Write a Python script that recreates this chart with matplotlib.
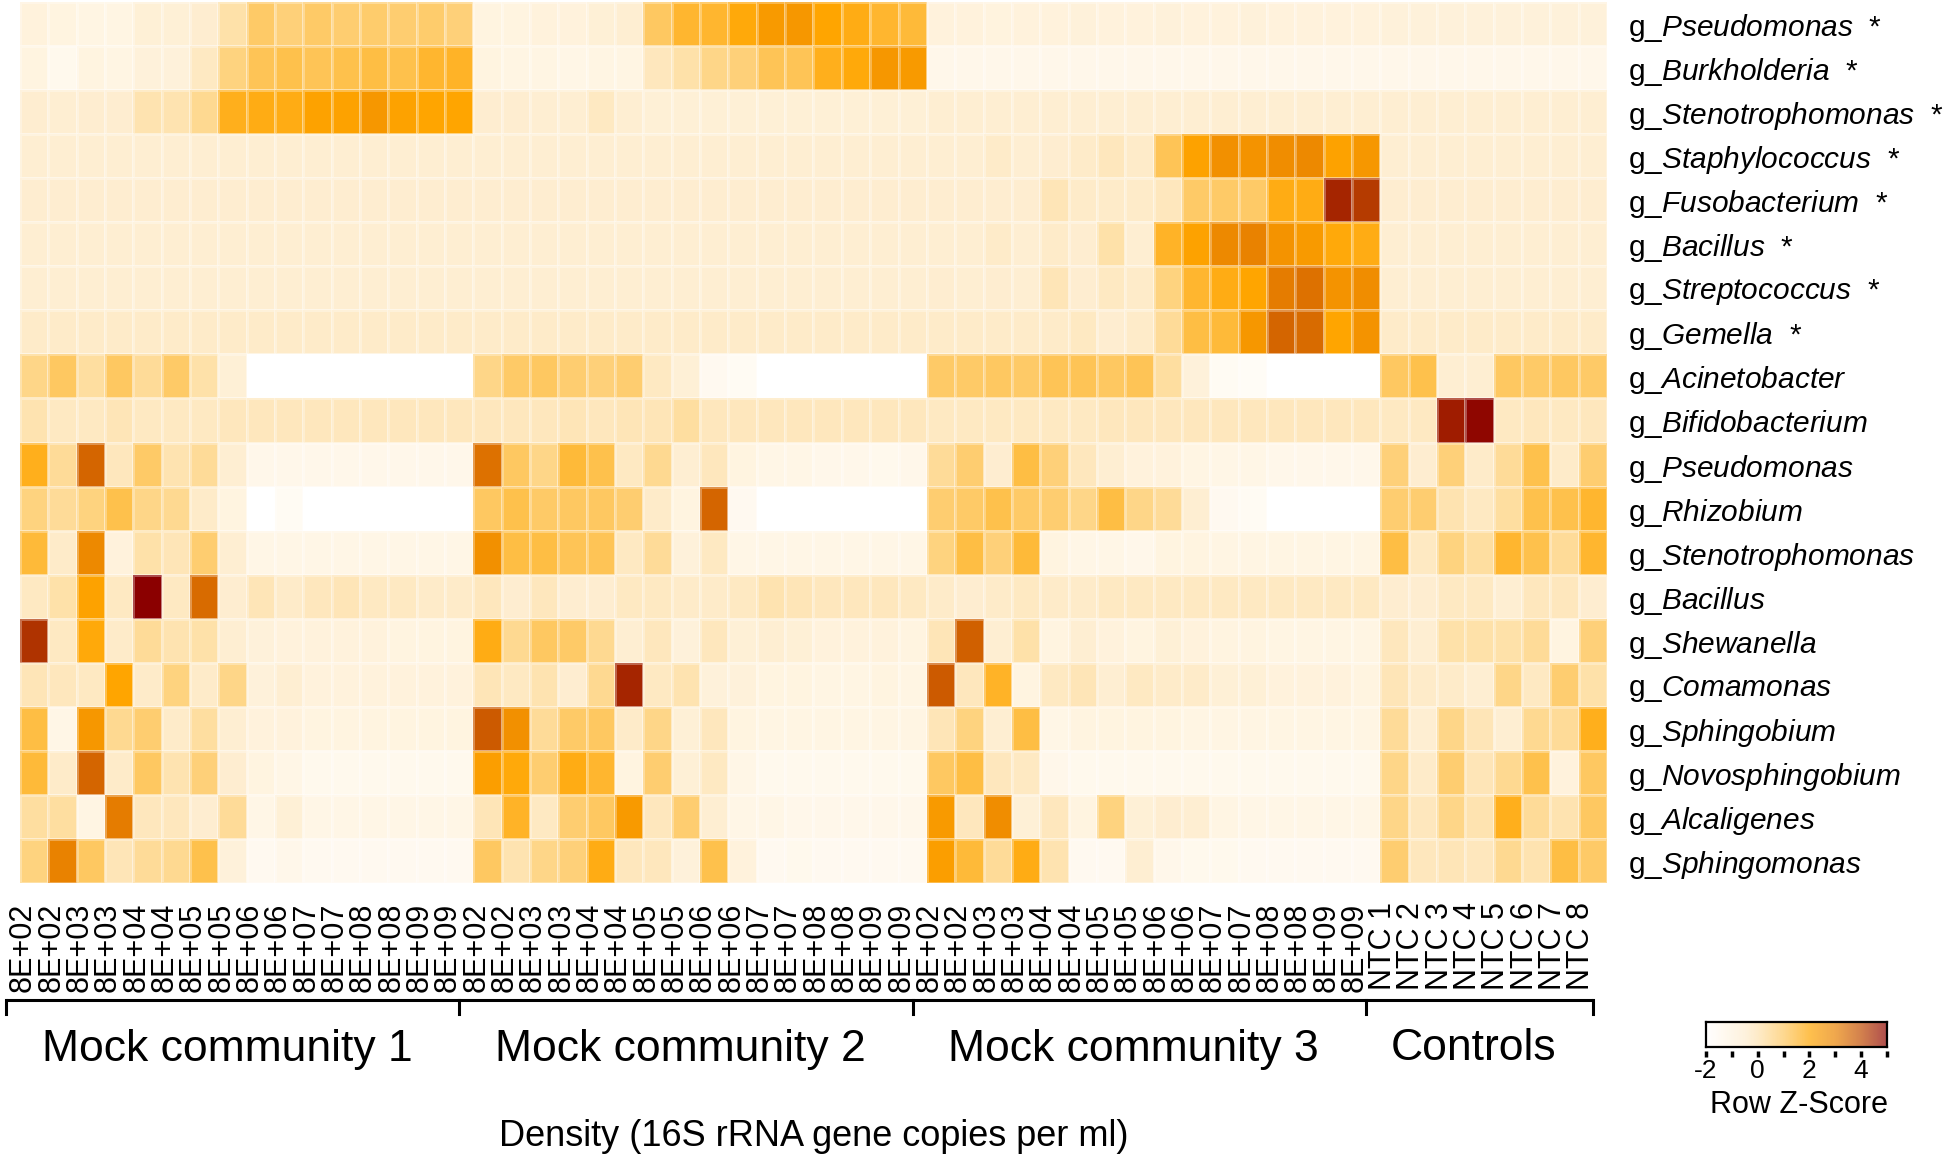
import numpy as np
import matplotlib
matplotlib.use("Agg")
import matplotlib.pyplot as plt
from matplotlib.colors import LinearSegmentedColormap
from matplotlib import transforms

plt.rcParams['font.family'] = 'Liberation Sans'
plt.rcParams['mathtext.fontset'] = 'custom'
plt.rcParams['mathtext.rm'] = 'Liberation Sans'
plt.rcParams['mathtext.it'] = 'Liberation Sans:italic'

# ---- data (row z-scores) ----
genera = ["Pseudomonas", "Burkholderia", "Stenotrophomonas", "Staphylococcus",
          "Fusobacterium", "Bacillus", "Streptococcus", "Gemella",
          "Acinetobacter", "Bifidobacterium", "Pseudomonas", "Rhizobium",
          "Stenotrophomonas", "Bacillus", "Shewanella", "Comamonas",
          "Sphingobium", "Novosphingobium", "Alcaligenes", "Sphingomonas"]
mock_member = [True] * 8 + [False] * 12

densities = ["8E+02", "8E+02", "8E+03", "8E+03", "8E+04", "8E+04", "8E+05", "8E+05",
             "8E+06", "8E+06", "8E+07", "8E+07", "8E+08", "8E+08", "8E+09", "8E+09"]
controls = ["NTC 1", "NTC 2", "NTC 3", "NTC 4", "NTC 5", "NTC 6", "NTC 7", "NTC 8"]
groups = ["Mock community 1", "Mock community 2", "Mock community 3", "Controls"]
group_sizes = [16, 16, 16, 8]

# each row: mock 1 (16) | mock 2 (16) | mock 3 (16) | controls (8)
z_pseudomonas_m = [-0.9, -1.0, -1.1, -1.1, -0.7, -0.7, -0.5, 0.1, 0.9, 0.7, 0.9, 0.8, 0.85, 0.8, 0.85, 0.7,
                   -1.0, -1.0, -0.9, -0.9, -0.7, -0.6, 1.0, 1.5, 1.5, 1.9, 2.3, 2.4, 2.0, 1.8, 1.5, 1.4,
                   -0.9, -0.9, -0.95, -0.9, -0.9, -0.85, -0.9, -0.9, -0.85, -0.9, -0.9, -0.85, -0.9, -0.9, -0.9, -0.9,
                   -0.8, -0.8, -0.8, -0.8, -0.8, -0.8, -0.8, -0.8]
z_burkholderia_m = [-1.0, -1.4, -1.0, -1.1, -0.8, -0.8, -0.3, 0.6, 1.1, 1.2, 1.1, 1.2, 1.3, 1.2, 1.5, 1.6,
                    -1.0, -1.1, -1.1, -1.2, -1.1, -1.1, -0.2, 0.1, 0.5, 0.7, 1.1, 1.1, 1.7, 1.9, 2.4, 2.3,
                    -1.3, -1.3, -1.3, -1.3, -1.3, -1.3, -1.3, -1.3, -1.3, -1.3, -1.3, -1.3, -1.3, -1.3, -1.3, -1.3,
                    -1.3, -1.3, -1.3, -1.3, -1.3, -1.3, -1.3, -1.3]
z_steno_m = [-0.5, -0.6, -0.5, -0.5, 0.0, 0.0, 0.4, 1.7, 1.8, 1.8, 2.1, 2.1, 2.4, 2.1, 2.0, 2.0,
             -0.5, -0.5, -0.6, -0.6, -0.3, -0.6, -0.7, -0.7, -0.7, -0.7, -0.7, -0.7, -0.7, -0.7, -0.7, -0.7,
             -0.6, -0.6, -0.6, -0.6, -0.6, -0.6, -0.6, -0.6, -0.6, -0.6, -0.6, -0.6, -0.6, -0.6, -0.6, -0.6,
             -0.6, -0.6, -0.6, -0.6, -0.6, -0.6, -0.6, -0.6]
z_staphylococcus_m = [-0.6, -0.6, -0.6, -0.6, -0.6, -0.6, -0.6, -0.6, -0.6, -0.6, -0.6, -0.6, -0.6, -0.6, -0.6, -0.6,
                      -0.6, -0.6, -0.6, -0.6, -0.6, -0.6, -0.6, -0.6, -0.6, -0.6, -0.6, -0.6, -0.6, -0.6, -0.6, -0.6,
                      -0.6, -0.6, -0.4, -0.6, -0.5, -0.4, -0.2, -0.4, 1.1, 2.1, 2.6, 2.5, 2.7, 2.8, 2.1, 2.4,
                      -0.6, -0.6, -0.6, -0.6, -0.6, -0.6, -0.6, -0.6]
z_fusobacterium_m = [-0.5, -0.5, -0.5, -0.5, -0.5, -0.5, -0.5, -0.5, -0.5, -0.5, -0.5, -0.5, -0.5, -0.5, -0.5, -0.5,
                     -0.5, -0.5, -0.5, -0.5, -0.5, -0.5, -0.5, -0.5, -0.5, -0.5, -0.5, -0.5, -0.5, -0.5, -0.5, -0.5,
                     -0.5, -0.5, -0.5, -0.5, -0.1, -0.4, -0.4, -0.4, -0.2, 0.9, 0.9, 0.9, 1.8, 1.8, 4.5, 4.2,
                     -0.5, -0.5, -0.5, -0.5, -0.5, -0.5, -0.5, -0.5]
z_bacillus_m = [-0.6, -0.6, -0.6, -0.6, -0.6, -0.6, -0.6, -0.6, -0.6, -0.6, -0.6, -0.6, -0.6, -0.6, -0.6, -0.6,
                -0.6, -0.6, -0.6, -0.6, -0.6, -0.6, -0.6, -0.6, -0.6, -0.6, -0.6, -0.6, -0.6, -0.6, -0.6, -0.6,
                -0.6, -0.6, -0.4, -0.6, -0.4, -0.5, 0.1, -0.6, 1.6, 2.1, 2.8, 3.0, 2.5, 2.3, 1.9, 1.8,
                -0.6, -0.6, -0.6, -0.6, -0.6, -0.6, -0.6, -0.6]
z_streptococcus_m = [-0.6, -0.6, -0.6, -0.6, -0.6, -0.6, -0.6, -0.6, -0.6, -0.6, -0.6, -0.6, -0.6, -0.6, -0.6, -0.6,
                     -0.6, -0.6, -0.6, -0.6, -0.6, -0.6, -0.6, -0.6, -0.6, -0.6, -0.6, -0.6, -0.6, -0.6, -0.6, -0.6,
                     -0.5, -0.6, -0.5, -0.6, -0.1, -0.5, -0.3, -0.4, 0.6, 1.5, 1.8, 2.0, 3.1, 3.3, 2.5, 2.7,
                     -0.6, -0.6, -0.6, -0.6, -0.6, -0.6, -0.6, -0.6]
z_gemella_m = [-0.4, -0.4, -0.4, -0.4, -0.4, -0.4, -0.4, -0.4, -0.4, -0.4, -0.4, -0.4, -0.4, -0.4, -0.4, -0.4,
               -0.4, -0.4, -0.4, -0.4, -0.4, -0.4, -0.4, -0.4, -0.4, -0.4, -0.4, -0.4, -0.4, -0.4, -0.4, -0.4,
               -0.4, -0.4, -0.4, -0.4, -0.4, -0.3, -0.5, -0.4, 0.3, 1.3, 1.4, 2.4, 3.5, 3.4, 2.0, 2.5,
               -0.4, -0.4, -0.4, -0.4, -0.4, -0.4, -0.4, -0.4]
z_acinetobacter = [0.5, 1.0, 0.2, 1.0, 0.3, 0.9, 0.1, -0.7, -2.0, -2.0, -2.0, -2.0, -2.0, -2.0, -2.0, -2.0,
                   0.5, 0.9, 1.0, 0.8, 0.7, 0.8, -0.3, -0.7, -1.5, -1.6, -2.0, -2.0, -2.0, -2.0, -2.0, -2.0,
                   0.9, 0.9, 1.0, 0.9, 1.1, 1.1, 1.0, 1.1, 0.2, -0.8, -1.6, -1.7, -2.0, -2.0, -2.0, -2.0,
                   1.0, 1.2, -0.6, -0.6, 1.0, 0.9, 1.0, 0.9]
z_bifidobacterium = [0.0, -0.3, -0.3, -0.1, -0.3, -0.3, -0.3, -0.2, -0.2, -0.2, -0.2, -0.2, -0.2, -0.2, -0.2, -0.2,
                     -0.2, -0.2, -0.2, -0.1, -0.2, -0.1, -0.1, 0.2, -0.2, -0.2, -0.2, -0.2, -0.2, -0.2, -0.2, -0.2,
                     -0.3, -0.3, -0.3, -0.3, -0.3, -0.3, -0.2, -0.2, -0.2, -0.2, -0.2, -0.2, -0.2, -0.2, -0.2, -0.2,
                     -0.3, -0.3, 4.6, 4.9, -0.3, -0.2, -0.3, -0.2]
z_pseudomonas = [1.7, 0.3, 3.5, -0.2, 0.9, 0.0, 0.3, -0.6, -1.3, -1.3, -1.3, -1.3, -1.3, -1.3, -1.3, -1.3,
                 3.3, 1.0, 0.5, 1.4, 1.2, -0.3, 0.4, -0.6, -0.2, -1.0, -1.2, -1.2, -1.3, -1.3, -1.4, -1.3,
                 0.3, 0.8, -0.5, 1.3, 0.7, -0.2, -0.6, -0.9, -0.9, -1.1, -1.2, -1.2, -1.3, -1.3, -1.3, -1.3,
                 0.7, -0.5, 0.7, -0.4, 0.3, 1.2, -0.4, 0.8]
z_rhizobium = [0.6, 0.3, 0.6, 1.2, 0.5, 0.4, -0.4, -1.0, -2.0, -1.6, -2.0, -2.0, -2.0, -2.0, -2.0, -2.0,
               1.0, 1.2, 0.9, 1.0, 1.0, 0.8, -0.4, -1.0, 3.5, -1.5, -2.0, -2.0, -2.0, -2.0, -2.0, -2.0,
               0.8, 0.9, 1.2, 0.9, 0.8, 0.5, 1.3, 0.5, 0.3, -0.6, -1.5, -1.6, -2.0, -2.0, -2.0, -2.0,
               0.8, 0.8, 0.0, -0.3, 0.2, 1.2, 1.2, 1.5]
z_steno = [1.4, -0.4, 2.8, -0.9, 0.1, -0.1, 0.8, -0.6, -1.2, -1.2, -1.2, -1.2, -1.2, -1.2, -1.2, -1.2,
           2.6, 1.3, 1.3, 1.1, 1.1, -0.3, 0.3, -0.8, -0.3, -1.2, -1.2, -1.2, -1.2, -1.2, -1.2, -1.2,
           0.6, 1.3, 0.7, 1.4, -1.0, -1.2, -1.2, -1.3, -1.0, -1.0, -1.1, -1.1, -1.1, -1.1, -1.1, -1.1,
           1.3, -0.3, 0.6, 0.2, 1.5, 1.2, 0.3, 1.5]
z_bacillus = [-0.3, 0.1, 2.1, -0.3, 5.0, -0.3, 3.4, -0.5, -0.1, -0.4, -0.2, -0.1, -0.3, -0.3, -0.4, -0.4,
              -0.2, -0.5, -0.2, -0.5, -0.5, -0.3, -0.3, -0.4, -0.4, -0.3, 0.0, -0.1, -0.2, -0.2, -0.2, -0.3,
              -0.4, -0.5, -0.4, -0.3, -0.4, -0.4, -0.3, -0.3, -0.3, -0.3, -0.3, -0.3, -0.3, -0.3, -0.3, -0.3,
              -0.5, -0.5, -0.3, -0.3, -0.6, -0.2, -0.2, -0.5]
z_shewanella = [4.3, -0.3, 1.9, -0.4, 0.3, 0.0, 0.1, -0.6, -0.8, -0.9, -0.9, -0.9, -0.9, -1.0, -1.0, -1.0,
                1.8, 0.4, 1.0, 0.9, 0.4, -0.6, -0.2, -0.8, -0.2, -0.7, -0.6, -0.7, -0.9, -0.9, -0.9, -1.0,
                -0.1, 3.6, -0.6, 0.1, -1.0, -0.6, -0.9, -1.0, -0.7, -0.9, -1.0, -1.0, -1.1, -1.1, -1.1, -1.1,
                -0.2, -0.6, 0.1, 0.1, 0.1, 0.3, -1.0, 0.7]
z_comamonas = [-0.1, -0.2, -0.3, 2.0, -0.4, 0.6, -0.4, 0.5, -0.8, -0.6, -0.9, -0.9, -0.9, -0.9, -0.9, -0.9,
               -0.1, -0.3, 0.0, -0.5, 0.4, 4.5, -0.3, 0.0, -0.8, -0.8, -1.0, -1.0, -1.1, -1.1, -1.0, -1.1,
               3.7, -0.2, 1.6, -1.0, -0.3, -0.1, -0.6, -0.3, -0.4, -0.4, -0.7, -0.7, -0.9, -0.9, -0.9, -1.0,
               -0.1, -0.4, -0.4, -0.6, 0.5, -0.3, 0.8, 0.1]
z_sphingobium = [1.3, -1.2, 2.4, 0.4, 0.8, -0.4, 0.2, -0.6, -0.9, -0.9, -1.0, -1.0, -1.0, -1.0, -1.0, -1.0,
                 3.7, 2.6, 0.3, 0.9, 1.0, -0.4, 0.5, -0.7, -0.2, -1.0, -1.1, -1.1, -1.1, -1.1, -1.1, -1.1,
                 -0.1, 0.6, -0.6, 1.3, -1.2, -1.0, -1.0, -1.0, -1.0, -1.1, -1.1, -1.1, -1.1, -1.1, -1.1, -1.1,
                 0.3, -0.6, 0.5, -0.1, -0.6, 0.4, 0.3, 1.7]
z_novosphingobium = [1.4, -0.4, 3.5, -0.4, 1.0, 0.0, 0.7, -0.5, -1.0, -1.2, -1.4, -1.4, -1.4, -1.4, -1.4, -1.4,
                     2.2, 1.9, 0.8, 1.8, 1.5, -1.0, 0.8, -0.7, -0.3, -1.2, -1.4, -1.4, -1.4, -1.4, -1.4, -1.4,
                     1.0, 1.3, -0.2, -0.3, -1.3, -1.4, -1.4, -1.4, -1.4, -1.4, -1.4, -1.4, -1.4, -1.4, -1.4, -1.4,
                     0.5, -0.4, 0.8, -0.1, 0.4, 1.2, -0.9, 1.0]
z_alcaligenes = [0.2, 0.2, -1.1, 3.1, -0.2, -0.2, -0.5, 0.3, -1.2, -0.7, -1.2, -1.2, -1.2, -1.2, -1.2, -1.2,
                 -0.1, 1.6, -0.3, 0.8, 1.0, 2.3, -0.2, 0.8, -0.6, -1.2, -1.2, -1.3, -1.3, -1.3, -1.3, -1.3,
                 2.3, -0.2, 2.7, -0.7, -0.2, -1.0, 0.6, -0.7, -0.5, -0.6, -1.1, -1.2, -1.2, -1.2, -1.2, -1.2,
                 0.5, -0.2, 0.5, 0.0, 1.7, 0.3, 0.0, 1.0]
z_sphingomonas = [0.6, 3.0, 1.0, -0.1, 0.3, 0.4, 1.2, -0.8, -1.5, -1.3, -1.5, -1.5, -1.5, -1.5, -1.5, -1.5,
                  1.0, 0.0, 0.5, 0.7, 1.8, -0.2, -0.2, -0.8, 1.2, -0.9, -1.5, -1.4, -1.5, -1.5, -1.5, -1.5,
                  2.2, 1.4, 0.3, 1.8, 0.0, -1.5, -1.5, -0.6, -1.3, -1.4, -1.4, -1.5, -1.5, -1.5, -1.5, -1.5,
                  0.8, -0.2, -0.1, -0.2, 0.4, 0.0, 1.3, 0.9]

zscores = np.array([z_pseudomonas_m, z_burkholderia_m, z_steno_m, z_staphylococcus_m,
                    z_fusobacterium_m, z_bacillus_m, z_streptococcus_m, z_gemella_m,
                    z_acinetobacter, z_bifidobacterium, z_pseudomonas, z_rhizobium,
                    z_steno, z_bacillus, z_shewanella, z_comamonas,
                    z_sphingobium, z_novosphingobium, z_alcaligenes, z_sphingomonas])

col_labels = densities * 3 + controls

# colour key: white -> cream -> orange -> dark red
zmin, zmax = -2, 5
key_vals = [-2, -1.2, -0.5, 0, 1, 2, 3, 4, 5]
key_cols = ["#FFFFFF", "#FFF6E6", "#FEEDCF", "#FEE3B0", "#FEC860",
            "#FFA500", "#E98200", "#C04A00", "#8B0000"]
cmap = LinearSegmentedColormap.from_list(
    "zscore", [((v - zmin) / (zmax - zmin), c) for v, c in zip(key_vals, key_cols)])

W, H = 1946, 1163
fig = plt.figure(figsize=(W / 100, H / 100), dpi=100)

ax = fig.add_axes([20 / W, 1 - 883 / H, 1587 / W, 881 / H])
nrow, ncol = zscores.shape
ax.pcolormesh(np.arange(ncol + 1), np.arange(nrow + 1), zscores, cmap=cmap,
              vmin=zmin, vmax=zmax, edgecolors=(1, 1, 1, 0.3), linewidth=0.8)
ax.set_xlim(0, ncol)
ax.set_ylim(nrow, 0)
for s in ax.spines.values():
    s.set_visible(False)

# column labels (slightly left of the cells, as in the original)
ax.set_xticks(np.arange(ncol) + 0.1)
ax.set_xticklabels(col_labels, rotation=90, fontsize=22, va='top', ha='center')
ax.tick_params(axis='x', length=0, pad=14)

# row labels on the right, genus in italics
row_labels = []
for g, star in zip(genera, mock_member):
    lab = "g_$\\mathit{" + g + "}$"
    if star:
        lab += "  *"
    row_labels.append(lab)
ax.yaxis.tick_right()
ax.set_yticks(np.arange(nrow) + 0.5)
ax.set_yticklabels(row_labels, fontsize=21.5)
ax.tick_params(axis='y', length=0, pad=15)

# group brackets under the column labels
trans = transforms.blended_transform_factory(ax.transData, fig.transFigure)
y_line = 1 - 1000 / H
y_tick = 1 - 1014 / H
y_text = 1 - 1049 / H
edges = np.concatenate([[0], np.cumsum(group_sizes)]) - 0.5
ax.plot([edges[0], edges[-1]], [y_line, y_line], color='black', lw=2.2,
        transform=trans, clip_on=False, solid_capstyle='butt')
for e in edges:
    ax.plot([e, e], [y_line, y_tick], color='black', lw=2.2,
            transform=trans, clip_on=False)
for name, a, b in zip(groups, edges[:-1], edges[1:]):
    ax.text((a + b) / 2 - 0.2, y_text, name, transform=trans, fontsize=32,
            ha='center', va='center')

fig.text(814 / W, 1 - 1136 / H, "Density (16S rRNA gene copies per ml)",
         fontsize=26, ha='center', va='center')

# colour key
cax = fig.add_axes([1706 / W, 1 - 1047 / H, 181 / W, 25 / H])
grad = np.linspace(zmin, zmax, 300)[None, :]
cax.imshow(grad, extent=(zmin, zmax, 0, 1), aspect='auto', cmap=cmap,
           vmin=zmin, vmax=zmax, alpha=0.7)
cax.set_xlim(zmin, zmax)
cax.set_ylim(0, 1)
cax.set_yticks([])
cax.set_xticks([-2, 0, 2, 4])
cax.set_xticklabels(["-2", "0", "2", "4"], fontsize=19)
cax.tick_params(axis='x', length=0, pad=9)
for s in cax.spines.values():
    s.set_linewidth(1.6)
key_ticks = np.arange(zmin, zmax + 1)
cax.plot(key_ticks, np.full(len(key_ticks), -0.28), ls='none', marker='|',
         ms=4, mew=2.5, color='black', clip_on=False)
fig.text(1799 / W, 1 - 1105 / H, "Row Z-Score", fontsize=22,
         ha='center', va='center')

fig.savefig("out.png", dpi=100)
